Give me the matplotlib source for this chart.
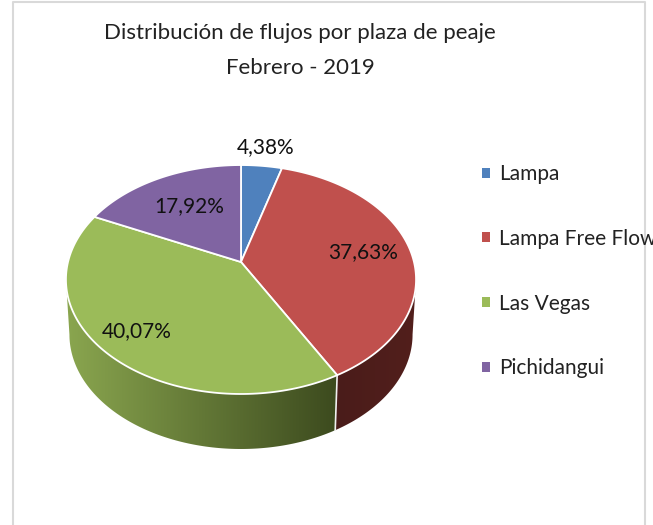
import numpy as np
import matplotlib
matplotlib.use("Agg")
import matplotlib.pyplot as plt
from matplotlib.patches import Patch, Polygon

categories = ["Lampa", "Lampa Free Flow", "Las Vegas", "Pichidangui"]
shares = [4.38, 37.63, 40.07, 17.92]
share_labels = ["4,38%", "37,63%", "40,07%", "17,92%"]
colors = ["#4f81bd", "#c0504d", "#9bbb59", "#8064a2"]
title_lines = ["Distribución de flujos por plaza de peaje", "Febrero - 2019"]

plt.rcParams["font.family"] = ["Liberation Sans Narrow", "Lato", "DejaVu Sans"]

# tilted disc, fitted by eye to the picture (pixels)
cx, cy = 241, 262
ax_x, ax_y, persp = 173, 111.8, 0.153
depth = 55
shrink = 0.98


def top_rim(t):
    # t is the clockwise angle from 12 o'clock
    u, v = np.sin(t), np.cos(t)
    d = 1 + persp * v
    return cx + ax_x * u / d, cy - ax_y * v / d


def low_rim(t):
    x, y = top_rim(t)
    return cx + shrink * (x - cx), y + depth


fig = plt.figure(figsize=(6.53, 5.25), dpi=100)
ax = fig.add_axes([0, 0, 1, 1])
ax.axis("off")

# card border, no line along the bottom
ax.plot([13, 13, 645, 645], [525, 2, 2, 525], color="#d9d9d9", lw=1.5)

edges = np.radians(np.concatenate([[0], np.cumsum(shares)]) * 3.6)
front_a = np.arccos(-persp)
front_b = 2 * np.pi - front_a

# side wall first, shaded left to right across x
wall_shades = {
    1: ("#4a1c1a", "#521f1c"),
    2: ("#8aa64f", "#3c4a1e"),
}
for i, (left, right) in wall_shades.items():
    ts = np.linspace(max(edges[i], front_a), min(edges[i + 1], front_b), 120)
    xa, ya = top_rim(ts)
    xb, yb = low_rim(ts)
    wall = Polygon(np.column_stack([np.r_[xa, xb[::-1]], np.r_[ya, yb[::-1]]]),
                   fc="none", ec="none", transform=ax.transData)
    ax.add_patch(wall)
    cmap = matplotlib.colors.LinearSegmentedColormap.from_list("wall", [left, right])
    x0, x1 = min(xa.min(), xb.min()), max(xa.max(), xb.max())
    y0, y1 = min(ya.min(), yb.min()), max(ya.max(), yb.max())
    im = ax.imshow(np.linspace(0, 1, 256).reshape(1, -1), cmap=cmap, aspect="auto",
                   extent=(x0, x1, y1, y0), zorder=2, interpolation="bilinear")
    im.set_clip_path(wall)
    if i == 1:
        ax.plot([xa[-1], xb[-1]], [ya[-1], yb[-1]], color="#f0f0f0", lw=1.2, zorder=3)

ax.set_xlim(0, 653)
ax.set_ylim(525, 0)
ax.set_aspect("auto")

# top face
for i, col in enumerate(colors):
    ts = np.linspace(edges[i], edges[i + 1], 120)
    x, y = top_rim(ts)
    pts = np.column_stack([np.r_[cx, x], np.r_[cy, y]])
    ax.add_patch(Polygon(pts, fc=col, ec="white", lw=1.3, joinstyle="round", zorder=4))

# share labels
label_xy = [(266, 147), (363, 252), (137, 331), (189, 206)]
for (lx, ly), s in zip(label_xy, share_labels):
    ax.text(lx, ly, s, ha="center", va="center", fontsize=15, color="#111111", zorder=5)

ax.text(300, 33, title_lines[0], ha="center", va="center", fontsize=16, color="#222222")
ax.text(300, 68, title_lines[1], ha="center", va="center", fontsize=16, color="#222222")

handles = [Patch(fc=c, ec="none", label=n) for c, n in zip(colors, categories)]
ax.legend(handles=handles, loc="upper left", bbox_to_anchor=(482, 164),
          bbox_transform=ax.transData, frameon=False, fontsize=15,
          handlelength=0.36, handleheight=0.36, handletextpad=0.45,
          labelspacing=2.15, labelcolor="#222222", borderpad=0, borderaxespad=0)

fig.savefig("out.png", dpi=100)
